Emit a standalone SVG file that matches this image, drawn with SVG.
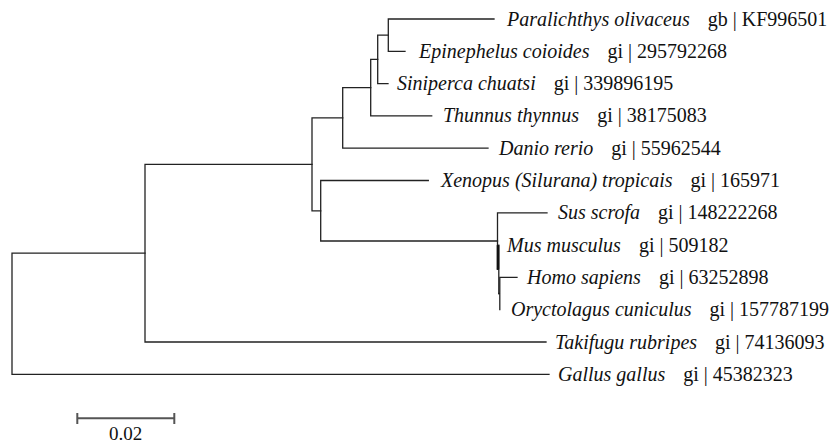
<svg xmlns="http://www.w3.org/2000/svg" width="829" height="445" viewBox="0 0 829 445">
<style>
.bg{fill:#ffffff}
.br{stroke:#222;stroke-width:1.3;fill:none;stroke-linecap:square}
.thick{stroke:#111;stroke-width:2.6;fill:none}
.lb{font-family:"Liberation Serif","Times New Roman",serif;font-size:20px;fill:#111}
.sp{font-style:italic}
.sb{stroke:#555;stroke-width:2;fill:none}
.sbt{font-family:"Liberation Serif","Times New Roman",serif;font-size:19px;fill:#111;text-anchor:middle}
</style>
<rect class="bg" x="0" y="0" width="829" height="445"/>
<g id="connectors">
<path class="br" d="M12 253.2V374.3M12 253.2H145M12 374.3H549"/>
<path class="br" d="M145 164.3V342M145 342H546M145 164.3H312"/>
<path class="br" d="M312 117.9V210.8M312 117.9H342.7M312 210.8H320.7"/>
<path class="br" d="M320.7 180.5V241M320.7 180.5H428.3M320.7 241H497.5"/>
<path class="br" d="M342.7 87.6V148.2M342.7 87.6H370.7M342.7 148.2H488"/>
<path class="br" d="M370.7 59.4V115.9M370.7 59.4H377.7M370.7 115.9H431.7"/>
<path class="br" d="M377.7 35.2V83.6M377.7 35.2H388.3M377.7 83.6H388"/>
<path class="br" d="M388.3 19V51.3M388.3 19H494M388.3 51.3H405"/>
<path class="br" d="M497.5 212.8V269.3M497.5 212.8H547"/>
<path class="br" d="M498.8 245.1V293.5M497.5 269.3H498.8"/>
<path class="thick" d="M498 245.1V269.3"/>
<path class="br" d="M499.8 277.4V309.7M498.8 293.5H499.8M499.8 277.4H517"/>
</g>
<g id="leaf-paralichthys"><text class="lb" x="507" y="25.5"><tspan class="sp">Paralichthys olivaceus</tspan><tspan dx="18">gb | KF996501</tspan></text></g>
<g id="leaf-epinephelus"><text class="lb" x="419" y="57.8"><tspan class="sp">Epinephelus coioides</tspan><tspan dx="18">gi | 295792268</tspan></text></g>
<g id="leaf-siniperca"><text class="lb" x="397" y="90.1"><tspan class="sp">Siniperca chuatsi</tspan><tspan dx="18">gi | 339896195</tspan></text></g>
<g id="leaf-thunnus"><text class="lb" x="443" y="122.4"><tspan class="sp">Thunnus thynnus</tspan><tspan dx="18">gi | 38175083</tspan></text></g>
<g id="leaf-danio"><text class="lb" x="499" y="154.7"><tspan class="sp">Danio rerio</tspan><tspan dx="18">gi | 55962544</tspan></text></g>
<g id="leaf-xenopus"><text class="lb" x="441" y="187"><tspan class="sp">Xenopus (Silurana) tropicais</tspan><tspan dx="18">gi | 165971</tspan></text></g>
<g id="leaf-sus"><text class="lb" x="558" y="219.3"><tspan class="sp">Sus scrofa</tspan><tspan dx="18">gi | 148222268</tspan></text></g>
<g id="leaf-mus"><text class="lb" x="507" y="251.6"><tspan class="sp">Mus musculus</tspan><tspan dx="18">gi | 509182</tspan></text></g>
<g id="leaf-homo"><text class="lb" x="527" y="283.9"><tspan class="sp">Homo sapiens</tspan><tspan dx="18">gi | 63252898</tspan></text></g>
<g id="leaf-oryctolagus"><text class="lb" x="511" y="316.2"><tspan class="sp">Oryctolagus cuniculus</tspan><tspan dx="18">gi | 157787199</tspan></text></g>
<g id="leaf-takifugu"><text class="lb" x="555" y="348.5"><tspan class="sp">Takifugu rubripes</tspan><tspan dx="18">gi | 74136093</tspan></text></g>
<g id="leaf-gallus"><text class="lb" x="558" y="380.8"><tspan class="sp">Gallus gallus</tspan><tspan dx="18">gi | 45382323</tspan></text></g>
<g id="scale-bar">
<path class="sb" d="M77.3 418.3H174.3M77.3 413V424M174.3 413V424"/>
<text class="sbt" x="125.7" y="440">0.02</text>
</g>
</svg>
